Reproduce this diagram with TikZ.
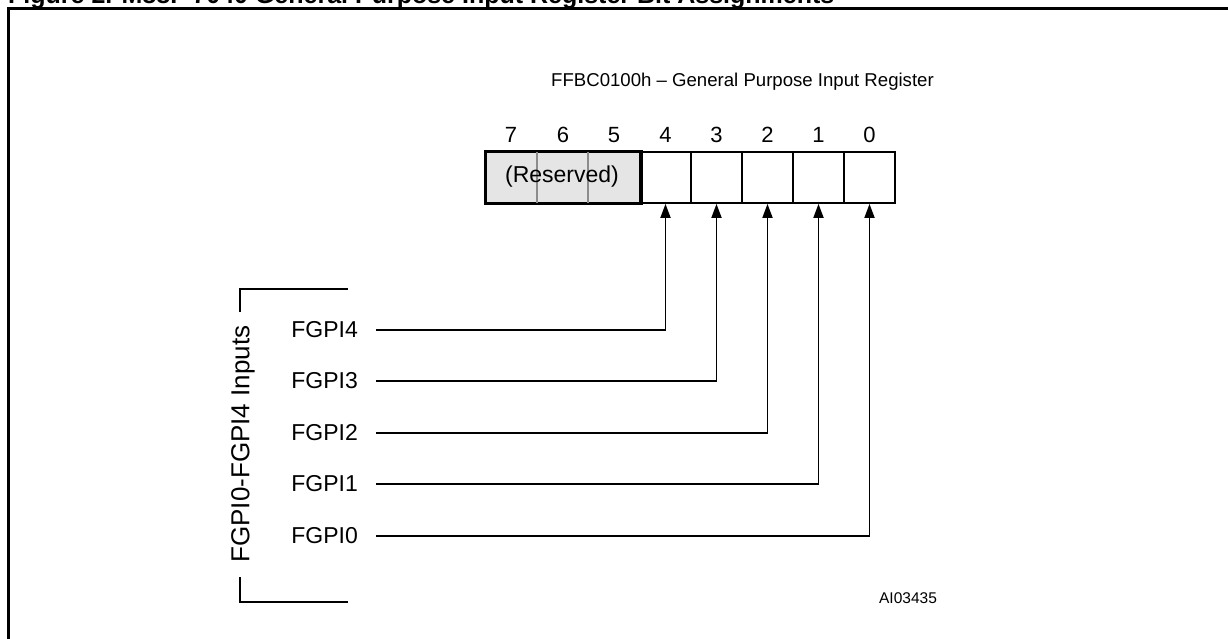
\documentclass[tikz,border=0pt]{standalone}
\usepackage{fontspec}
\setmainfont{Liberation Sans}
\usetikzlibrary{arrows.meta}
\begin{document}
\begin{tikzpicture}[x=1pt,y=-1pt,
  txt/.style={font=\fontsize{23}{25}\selectfont, inner sep=0pt},
  lab/.style={font=\fontsize{23}{25}\selectfont, inner sep=0pt, anchor=east},
  bitnum/.style={font=\fontsize{22}{24}\selectfont, inner sep=0pt, anchor=base},
  cell/.style={draw, line width=1.8pt, minimum width=51pt, minimum height=51pt, inner sep=0pt},
  wire/.style={line width=1.8pt, -{Triangle[length=14pt,width=10pt]}},
  frame/.style={line width=3pt},
  brk/.style={line width=1.8pt}]
\useasboundingbox (0,0) rectangle (1228,639);
% title (cut by page top)
\node[font=\bfseries\fontsize{25}{27}\selectfont, anchor=base west, inner sep=0pt] (fig) at (8,4) {Figure 2. M88F 7040 General Purpose Input Register Bit Assignments};
\draw[frame] (1228,9) -- (8,9) -- (8,639);
% register title
\node[font=\fontsize{18.6}{20}\selectfont, inner sep=0pt, anchor=base] (regt) at (742.5,87) {FFBC0100h -- General Purpose Input Register};
% reserved field
\node[cell, fill=black!10, minimum width=155pt, anchor=west] (res) at (485,177.5) {};
\draw[black!45, line width=1.2pt] (537,152) -- (537,203) (588,152) -- (588,203);
\node[txt] (rest) at (562,177) {(Reserved)};
\draw[line width=1.8pt] (res.north west) rectangle (res.south east);
% bit cells
\node[cell] (b4) at (665.5,177.5) {};
\node[cell] (b3) at (716.5,177.5) {};
\node[cell] (b2) at (767.5,177.5) {};
\node[cell] (b1) at (818.5,177.5) {};
\node[cell] (b0) at (869.5,177.5) {};
% bit numbers
\node[bitnum] (n7) at (511,143) {7};
\node[bitnum] (n6) at (563,143) {6};
\node[bitnum] (n5) at (614,143) {5};
\node[bitnum] (n4) at (665.5,143) {4};
\node[bitnum] (n3) at (716.5,143) {3};
\node[bitnum] (n2) at (767.5,143) {2};
\node[bitnum] (n1) at (818.5,143) {1};
\node[bitnum] (n0) at (869.5,143) {0};
% input labels
\node[lab] (i4) at (358,330) {FGPI4};
\node[lab] (i3) at (358,381) {FGPI3};
\node[lab] (i2) at (358,433) {FGPI2};
\node[lab] (i1) at (358,484) {FGPI1};
\node[lab] (i0) at (358,536) {FGPI0};
\draw[wire] ([xshift=18pt]i4.east) -| (b4.south);
\draw[wire] ([xshift=18pt]i3.east) -| (b3.south);
\draw[wire] ([xshift=18pt]i2.east) -| (b2.south);
\draw[wire] ([xshift=18pt]i1.east) -| (b1.south);
\draw[wire] ([xshift=18pt]i0.east) -| (b0.south);
% group label and bracket
\node[font=\fontsize{26}{28}\selectfont, inner sep=0pt, rotate=90] (grp) at (243,444) {FGPI0-FGPI4 Inputs};
\coordinate (tb) at (348,289);
\coordinate (bb) at (348,602);
\coordinate (tv) at (240,312);
\coordinate (bv) at (240,577);
\draw[brk] (tv) |- (tb);
\draw[brk] (bv) |- (bb);
% figure id
\node[font=\fontsize{15.5}{17}\selectfont, inner sep=0pt] (id) at (908,598) {AI03435};
\end{tikzpicture}
\end{document}
